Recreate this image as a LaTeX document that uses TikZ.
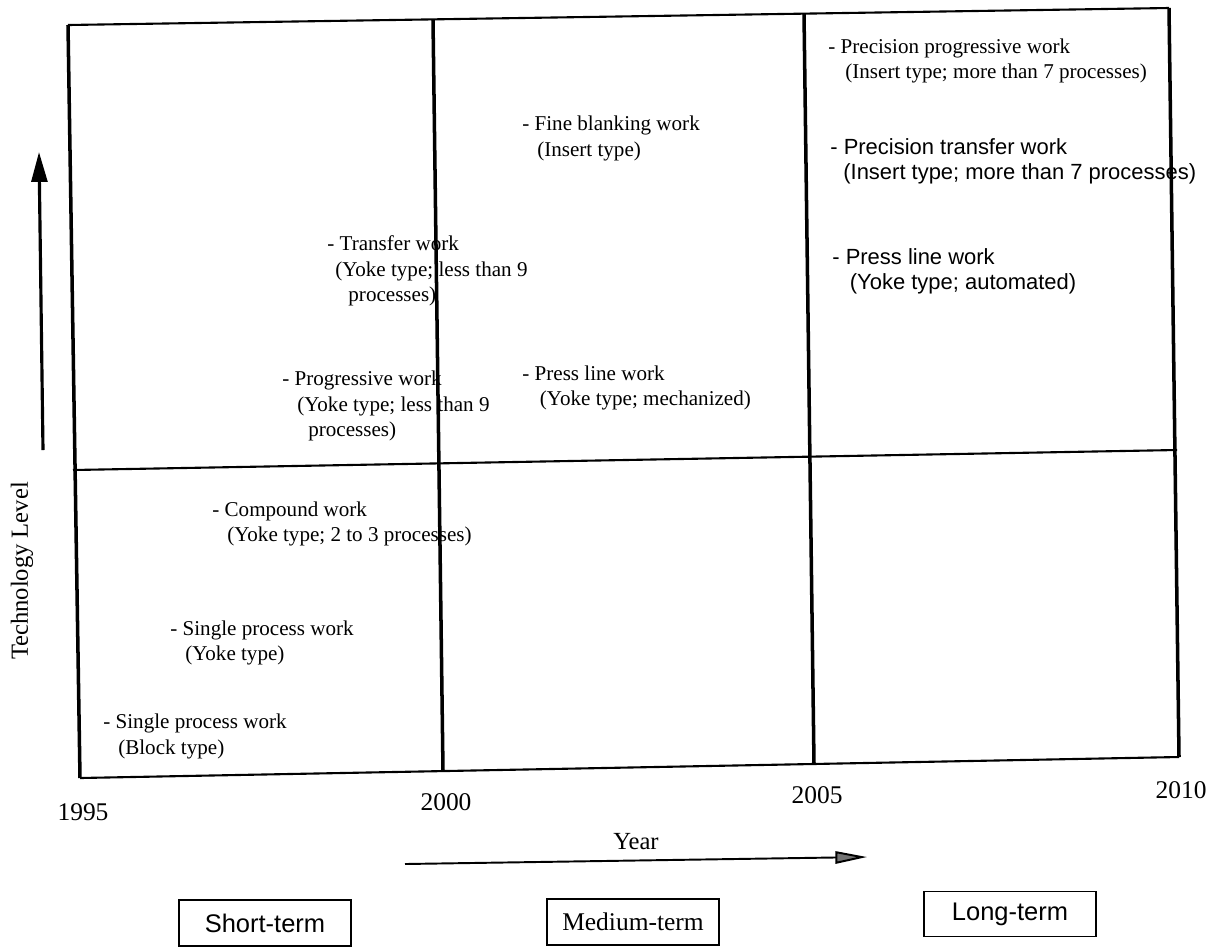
\documentclass[tikz,border=0pt]{standalone}
\usepackage{fontspec}
\setmainfont{Liberation Serif}
\newfontfamily\sansf{Liberation Sans}
\usetikzlibrary{arrows.meta}
\begin{document}
\begin{tikzpicture}[x=0.02cm,y=-0.02cm,
  item/.style={anchor=west,inner sep=0pt,align=left,font=\fontsize{12}{14.5}\selectfont},
  sitem/.style={anchor=west,inner sep=0pt,align=left,font=\sansf\fontsize{12.5}{14.5}\selectfont},
  yearlbl/.style={inner sep=0pt,font=\fontsize{14.5}{16}\selectfont},
  axislbl/.style={inner sep=0pt,font=\fontsize{14}{16}\selectfont},
  termbox/.style={draw,line width=1.1pt,inner sep=0pt,minimum width=3.45cm,minimum height=0.93cm,font=\fontsize{14.5}{16}\selectfont},
  vline/.style={line width=2pt},
  hline/.style={line width=1.2pt}
]
\useasboundingbox (0,0) rectangle (1223,948);

% items
\node[item] (ppw) at (828,61) {- Precision progressive work\\\hspace*{9.7pt}(Insert type; more than 7 processes)};
\node[item] (fbw) at (522,138.5) {- Fine blanking work\\\hspace*{8.5pt}(Insert type)};
\node[sitem] (ptw) at (830,161.5) {- Precision transfer work\\\hspace*{7.4pt}(Insert type; more than 7 processes)};
\node[item] (tw) at (327,271) {- Transfer work\\\hspace*{4.5pt}(Yoke type; less than 9\\\hspace*{12pt}processes)};
\node[sitem] (plwa) at (832,271.5) {- Press line work\\\hspace*{10pt}(Yoke type; automated)};
\node[item] (pw) at (282,406) {- Progressive work\\\hspace*{8.5pt}(Yoke type; less than 9\\\hspace*{14.8pt}processes)};
\node[item] (plwm) at (522,388) {- Press line work\\\hspace*{10pt}(Yoke type; mechanized)};
\node[item] (cw) at (212,524) {- Compound work\\\hspace*{8.5pt}(Yoke type; 2 to 3 processes)};
\node[item] (spy) at (170,643) {- Single process work\\\hspace*{8.5pt}(Yoke type)};
\node[item] (spb) at (103,736.5) {- Single process work\\\hspace*{8.5pt}(Block type)};

% frame
\coordinate (tl) at (68,25);
\coordinate (tr) at (1169,8);
\coordinate (br) at (1179,757);
\coordinate (bl) at (80,778);
\coordinate (mt) at (433,20);
\coordinate (mb) at (443,771);
\coordinate (lt) at (804,14);
\coordinate (lb) at (814,764);
\coordinate (hl) at (73,470);
\coordinate (hr) at (1177,450);
\draw[hline] (tl) -- (tr);
\draw[hline] (bl) -- (br);
\draw[hline] (hl) -- (hr);
\draw[vline] (tl) -- (bl);
\draw[vline] (tr) -- (br);
\draw[vline] (mt) -- (mb);
\draw[vline] (lt) -- (lb);

% axis labels
\node[yearlbl] (y1995) at (83,812) {1995};
\node[yearlbl] (y2000) at (446,802) {2000};
\node[yearlbl] (y2005) at (817,795) {2005};
\node[yearlbl] (y2010) at (1181,790) {2010};
\node[axislbl] (year) at (636,842) {Year};
\node[axislbl,rotate=90] (tech) at (22,571) {Technology Level};

% arrows
\coordinate (ua0) at (43,450);
\coordinate (ua1) at (39,152);
\draw[line width=1.8pt,-{Triangle[length=17pt,width=9pt]}] (ua0) -- (ua1);
\coordinate (ya0) at (405,864);
\coordinate (ya1) at (867,857);
\draw[line width=1.1pt,-{Triangle[length=18pt,width=7pt,fill=black!55]}] (ya0) -- (ya1);

% term boxes
\node[termbox,font=\sansf\fontsize{14.5}{16}\selectfont] (short) at (265,923) {Short-term};
\node[termbox] (medium) at (633,922) {Medium-term};
\node[termbox,font=\sansf\fontsize{14.5}{16}\selectfont,minimum height=0.9cm] (long) at (1010,914) {Long-term};
\end{tikzpicture}
\end{document}
